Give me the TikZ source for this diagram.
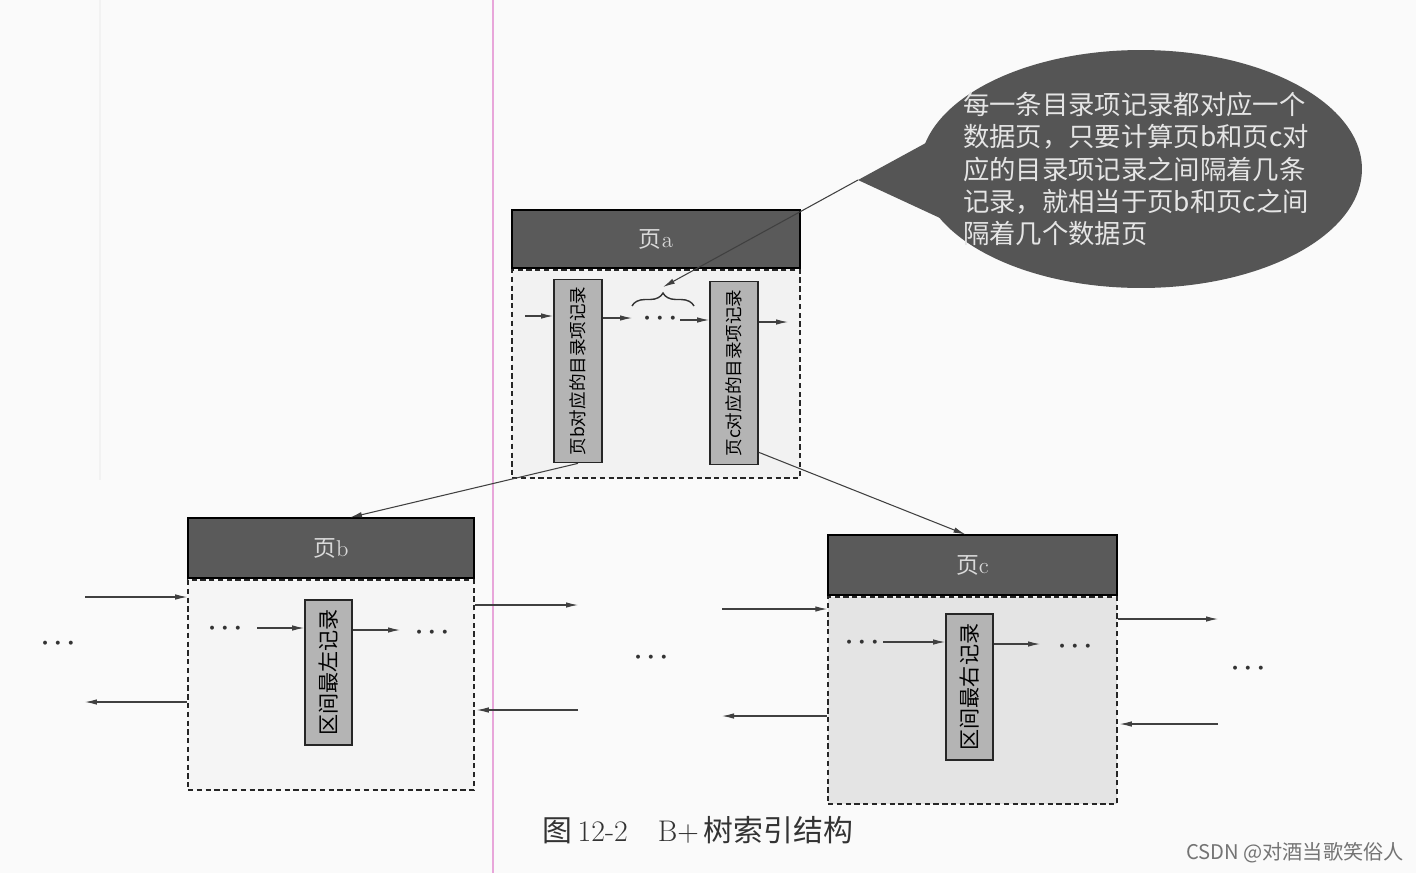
\documentclass[tikz,border=0pt]{standalone}
\usepackage{fontspec}
\usepackage{graphicx}
\usepackage{tikz}
\usetikzlibrary{arrows.meta,shapes.geometric,decorations.pathreplacing}
\newfontfamily\cjk{Noto Sans CJK SC}
\definecolor{hdgray}{HTML}{5A5A5A}
\definecolor{bodya}{HTML}{F2F2F2}
\definecolor{bodyb}{HTML}{F5F5F5}
\definecolor{bodyc}{HTML}{E4E4E4}
\definecolor{recgray}{HTML}{B4B4B4}
\definecolor{bubble}{HTML}{555555}
\definecolor{scanpink}{HTML}{E8A6DA}

\begin{document}
\begin{tikzpicture}[x=0.02cm,y=-0.02cm,
  header/.style={draw=black,line width=1pt,fill=hdgray,text=white!85!black,
    inner sep=0pt,font=\fontsize{13}{15}\selectfont},
  body/.style={draw=black!85,densely dashed,line width=0.9pt,inner sep=0pt},
  rec/.style={draw=black!85,line width=1pt,fill=recgray,inner sep=0pt},
  arr/.style={draw=black!75,line width=0.6pt,-{Latex[length=2.4mm,width=1.1mm]}},
  dots/.style={inner sep=0pt,text=black!80,font=\fontsize{15}{17}\selectfont\boldmath}]
  \useasboundingbox[fill=white!98!black] (0,0) rectangle (1416,873);

  % scan lines
  \draw[scanpink,line width=0.8pt] (493,0) -- (493,873);
  \draw[black!5,line width=0.8pt] (100,0) -- (100,480);

  % page a
  \node[body,fill=bodya,minimum width=5.76cm,minimum height=4.16cm] (ba) at (656,374) {};
  \node[header,minimum width=5.76cm,minimum height=1.16cm,anchor=south] (ha) at (ba.north) {{\cjk 页}a};
  \node[rec,minimum width=0.96cm,minimum height=3.66cm] (ab) at (578,371)
    {\rotatebox{90}{\fontsize{10}{12}\selectfont\cjk 页b对应的目录项记录}};
  \node[rec,minimum width=0.96cm,minimum height=3.66cm] (ac) at (734,373)
    {\rotatebox{90}{\fontsize{10}{12}\selectfont\cjk 页c对应的目录项记录}};
  \coordinate (ain) at (525,316);
  \coordinate (a1) at (632,318);
  \node[dots] (dotsa) at (660,318) {$\cdots$};
  \coordinate (a2) at (680,320);
  \coordinate (aout) at (788,322);
  \draw[arr] (ain) -- (ain -| ab.west);
  \draw[arr] (ab.east |- a1) -- (a1);
  \draw[arr] (a2) -- (a2 -| ac.west);
  \draw[arr] (ac.east |- aout) -- (aout);
  \draw[black!80,line width=0.8pt,decorate,decoration={brace,amplitude=0.26cm}]
    (632,306) -- (694,306);
  \coordinate (bt) at (663,287);

  % speech bubble
  \fill[bubble] (935,138) -- (858,180) -- (940,218) -- cycle;
  \node[ellipse,fill=bubble,minimum width=8.84cm,minimum height=4.76cm,inner sep=0pt] (note) at (1141,169) {};
  \node[align=left,inner sep=0pt,text=white!90!black,font=\cjk\fontsize{15}{18.4}\selectfont] (notetext) at ([xshift=-0.1cm]note.center)
    {每一条目录项记录都对应一个\\数据页，只要计算页b和页c对\\应的目录项记录之间隔着几条\\记录，就相当于页b和页c之间\\隔着几个数据页};
  \coordinate (tip) at (858,180);
  \draw[arr] (tip) -- (bt);

  % page b
  \node[body,fill=bodyb,minimum width=5.72cm,minimum height=4.2cm] (bb) at (331,685) {};
  \node[header,minimum width=5.72cm,minimum height=1.2cm,anchor=south] (hb) at (bb.north) {{\cjk 页}b};
  \node[rec,minimum width=0.94cm,minimum height=2.9cm] (rb) at (328.5,672.5)
    {\rotatebox{90}{\fontsize{12}{14}\selectfont\cjk 区间最左记录}};
  \node[dots] (db1) at (225,628) {$\cdots$};
  \coordinate (b1) at (257,628);
  \coordinate (b2) at (400,630);
  \node[dots] (db2) at (432,632) {$\cdots$};
  \draw[arr] (b1) -- (b1 -| rb.west);
  \draw[arr] (rb.east |- b2) -- (b2);
  \coordinate (bl1) at (85,597);
  \coordinate (bl2) at (85,702);
  \coordinate (br1) at (578,605);
  \coordinate (br2) at (578,710);
  \draw[arr] (bl1) -- (bl1 -| bb.west);
  \draw[arr] (bl2 -| bb.west) -- (bl2);
  \draw[arr] (br1 -| bb.east) -- (br1);
  \draw[arr] (br2) -- ([xshift=0.04cm]br2 -| bb.east);

  % page c
  \node[body,fill=bodyc,minimum width=5.78cm,minimum height=4.14cm] (bc) at (972.5,700.5) {};
  \node[header,minimum width=5.78cm,minimum height=1.2cm,anchor=south] (hc) at (bc.north) {{\cjk 页}c};
  \node[rec,minimum width=0.94cm,minimum height=2.92cm] (rc) at (969.5,687)
    {\rotatebox{90}{\fontsize{12}{14}\selectfont\cjk 区间最右记录}};
  \node[dots] (dc1) at (862,642) {$\cdots$};
  \coordinate (c1) at (883,642);
  \coordinate (c2) at (1040,644);
  \node[dots] (dc2) at (1075,646) {$\cdots$};
  \draw[arr] (c1) -- (c1 -| rc.west);
  \draw[arr] (rc.east |- c2) -- (c2);
  \coordinate (cl1) at (722,609);
  \coordinate (cl2) at (722,716);
  \coordinate (cr1) at (1218,619);
  \coordinate (cr2) at (1218,724);
  \draw[arr] (cl1) -- (cl1 -| bc.west);
  \draw[arr] (cl2 -| bc.west) -- (cl2);
  \draw[arr] (cr1 -| bc.east) -- (cr1);
  \draw[arr] (cr2) -- ([xshift=0.04cm]cr2 -| bc.east);

  % dots between pages
  \node[dots] (d1) at (58,643) {$\cdots$};
  \node[dots] (d2) at (651,657) {$\cdots$};
  \node[dots] (d3) at (1248,668) {$\cdots$};

  % from page a down to b and c
  \draw[arr] (ab.south) -- ([xshift=0.38cm]hb.north);
  \draw[arr] ([yshift=0.26cm]ac.south east) -- ([xshift=-0.14cm]hc.north);

  % caption
  \node[text=black!80,font=\fontsize{17}{20}\selectfont] (cap) at (698,830)
    {{\cjk 图}\,12-2\quad B+\,{\cjk 树索引结构}};
  \node[text=black!55,font=\cjk\fontsize{11.5}{13}\selectfont] (wm) at (1295,853) {CSDN @对酒当歌笑俗人};
\end{tikzpicture}
\end{document}
